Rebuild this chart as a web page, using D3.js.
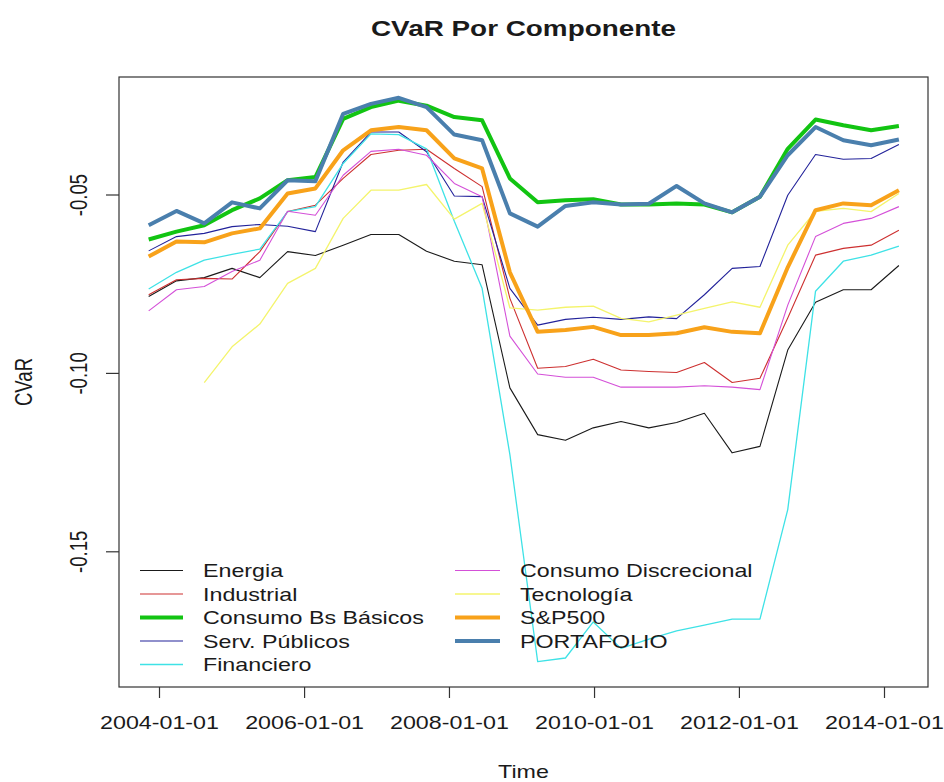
<!DOCTYPE html>
<html>
<head>
<meta charset="utf-8">
<script src="https://cdn.jsdelivr.net/npm/d3@7"></script>
<style>
    body { margin: 0; background: #fff; }
    svg { display: block; }
    text { font-family: "Liberation Sans", Arial, sans-serif; fill: #1a1a1a; }
</style>
</head>
<body>
<svg id="chart" width="944" height="782"></svg>
<script>
// fechas de cada ventana (cada 20 semanas aprox.)
const dates = [
    "2003-11-10", "2004-03-29", "2004-08-16", "2005-01-03", "2005-05-23", "2005-10-10",
    "2006-02-27", "2006-07-17", "2006-12-04", "2007-04-23", "2007-09-10", "2008-01-28",
    "2008-06-16", "2008-11-03", "2009-03-23", "2009-08-10", "2009-12-28", "2010-05-17",
    "2010-10-04", "2011-02-21", "2011-07-11", "2011-11-28", "2012-04-16", "2012-09-03",
    "2013-01-21", "2013-06-10", "2013-10-28", "2014-03-17"
];

const energia = [-0.0786, -0.0742, -0.0733, -0.0707, -0.0733, -0.0660, -0.0671, -0.0642, -0.0612, -0.0612, -0.0659, -0.0687, -0.0697, -0.1042,
    -0.1173, -0.1189, -0.1154, -0.1136, -0.1154, -0.1139, -0.1113, -0.1224, -0.1206, -0.0936, -0.0802, -0.0767, -0.0767, -0.0699];
const industrial = [-0.0781, -0.0739, -0.0735, -0.0737, -0.0660, -0.0548, -0.0530, -0.0455, -0.0388, -0.0376, -0.0373, -0.0427, -0.0478, -0.0791,
    -0.0987, -0.0982, -0.0962, -0.0992, -0.0996, -0.0999, -0.0971, -0.1027, -0.1015, -0.0846, -0.0670, -0.0651, -0.0642, -0.0600];
const consumoBasicos = [-0.0626, -0.0604, -0.0586, -0.0544, -0.0511, -0.0460, -0.0451, -0.0288, -0.0255, -0.0237, -0.0251, -0.0283, -0.0292, -0.0455,
    -0.0522, -0.0516, -0.0513, -0.0528, -0.0528, -0.0525, -0.0528, -0.0550, -0.0506, -0.0372, -0.0290, -0.0306, -0.0320, -0.0308];
const servPublicos = [-0.0658, -0.0618, -0.0609, -0.0590, -0.0584, -0.0589, -0.0604, -0.0409, -0.0325, -0.0325, -0.0380, -0.0504, -0.0506, -0.0763,
    -0.0866, -0.0850, -0.0844, -0.0850, -0.0843, -0.0848, -0.0781, -0.0707, -0.0702, -0.0502, -0.0388, -0.0401, -0.0399, -0.0360];
const financiero = [-0.0765, -0.0718, -0.0684, -0.0668, -0.0653, -0.0548, -0.0534, -0.0413, -0.0330, -0.0332, -0.0372, -0.0575, -0.0763, -0.1229,
    -0.1809, -0.1799, -0.1698, -0.1772, -0.1746, -0.1723, -0.1707, -0.1690, -0.1690, -0.1383, -0.0771, -0.0687, -0.0670, -0.0645];
const discrecional = [-0.0826, -0.0767, -0.0758, -0.0716, -0.0684, -0.0547, -0.0558, -0.0446, -0.0379, -0.0373, -0.0390, -0.0469, -0.0506, -0.0897,
    -0.1003, -0.1012, -0.1012, -0.1040, -0.1040, -0.1040, -0.1036, -0.1040, -0.1047, -0.0810, -0.0618, -0.0581, -0.0567, -0.0534];
const tecnologia = [null, null, -0.1027, -0.0927, -0.0863, -0.0749, -0.0707, -0.0567, -0.0488, -0.0488, -0.0472, -0.0569, -0.0525, -0.0818,
    -0.0824, -0.0816, -0.0813, -0.0847, -0.0857, -0.0838, -0.0819, -0.0801, -0.0816, -0.0642, -0.0547, -0.0539, -0.0548, -0.0497];
const sp500 = [-0.0674, -0.0632, -0.0634, -0.0609, -0.0595, -0.0497, -0.0483, -0.0376, -0.0320, -0.0311, -0.0320, -0.0399, -0.0427, -0.0718,
    -0.0885, -0.0880, -0.0871, -0.0894, -0.0894, -0.0889, -0.0872, -0.0885, -0.0889, -0.0704, -0.0544, -0.0525, -0.0530, -0.0488];
const portafolio = [-0.0586, -0.0546, -0.0581, -0.0522, -0.0539, -0.0460, -0.0463, -0.0274, -0.0246, -0.0229, -0.0255, -0.0332, -0.0348, -0.0553,
    -0.0590, -0.0532, -0.0522, -0.0528, -0.0526, -0.0476, -0.0525, -0.0550, -0.0506, -0.0390, -0.0311, -0.0348, -0.0362, -0.0346];

const xTicks = ["2004-01-01", "2006-01-01", "2008-01-01", "2010-01-01", "2012-01-01", "2014-01-01"];
const yTicks = [-0.15, -0.10, -0.05];

// series en el orden de la leyenda
const series = [
    { name: "Energia", values: energia, color: "#1a1a1a", width: 1.1 },
    { name: "Industrial", values: industrial, color: "#cd3030", width: 1.1 },
    { name: "Consumo Bs Básicos", values: consumoBasicos, color: "#12c412", width: 4 },
    { name: "Serv. Públicos", values: servPublicos, color: "#22229a", width: 1.1 },
    { name: "Financiero", values: financiero, color: "#3ee2e6", width: 1.3 },
    { name: "Consumo Discrecional", values: discrecional, color: "#d450d8", width: 1.1 },
    { name: "Tecnología", values: tecnologia, color: "#f4f46c", width: 1.3 },
    { name: "S&P500", values: sp500, color: "#f8a21a", width: 4 },
    { name: "PORTAFOLIO", values: portafolio, color: "#4a7fad", width: 4 }
];

// el grafico original esta estirado en horizontal
const SX = 1.25;
const FS = 18.6;
const box = { left: 119, right: 928, top: 77, bottom: 687 };

const parse = d3.utcParse("%Y-%m-%d");
const svg = d3.select("#chart");

const x = d3.scaleUtc()
    .domain([parse("2004-01-01"), parse("2014-01-01")])
    .range([159, 884]);

const y = d3.scaleLinear()
    .domain([-0.05, -0.15])
    .range([194.5, 551.3]);

// lineas
const line = d3.line()
    .defined(d => d.v != null)
    .x(d => x(d.t))
    .y(d => y(d.v));

const lines = svg.append("g").attr("fill", "none").attr("stroke-linejoin", "round");
series.forEach(s => {
    const pts = dates.map((d, i) => ({ t: parse(d), v: s.values[i] }));
    lines.append("path")
        .datum(pts)
        .attr("d", line)
        .attr("stroke", s.color)
        .attr("stroke-width", s.width);
});

// caja
svg.append("rect")
    .attr("x", box.left)
    .attr("y", box.top)
    .attr("width", box.right - box.left)
    .attr("height", box.bottom - box.top)
    .attr("fill", "none")
    .attr("stroke", "#333")
    .attr("stroke-width", 1.2);

// eje x
const xAxis = svg.append("g")
    .attr("transform", `translate(0,${box.bottom})`)
    .call(d3.axisBottom(x)
        .tickValues(xTicks.map(parse))
        .tickFormat(d3.utcFormat("%Y-%m-%d"))
        .tickSize(11));
xAxis.select(".domain").remove();
xAxis.selectAll("line").attr("stroke", "#333").attr("stroke-width", 1.2);
xAxis.selectAll("text")
    .attr("y", 0)
    .attr("dy", null)
    .attr("font-size", FS)
    .attr("font-family", "Liberation Sans, Arial, sans-serif")
    .attr("fill", "#1a1a1a")
    .attr("transform", `translate(0,42) scale(${SX},1)`);

// eje y
const yAxis = svg.append("g")
    .attr("transform", `translate(${box.left},0)`)
    .call(d3.axisLeft(y)
        .tickValues(yTicks)
        .tickFormat(d => d.toFixed(2))
        .tickSize(13));
yAxis.select(".domain").remove();
yAxis.selectAll("line").attr("stroke", "#333").attr("stroke-width", 1.2);
yAxis.selectAll("text")
    .attr("x", 0)
    .attr("y", 0)
    .attr("dy", null)
    .attr("text-anchor", "middle")
    .attr("font-size", FS)
    .attr("font-family", "Liberation Sans, Arial, sans-serif")
    .attr("fill", "#1a1a1a")
    .attr("transform", `translate(-32,0) scale(${SX},1) rotate(-90)`);

// textos
function label(str, tx, ty, opts = {}) {
    const t = svg.append("text")
        .attr("transform", `translate(${tx},${ty}) scale(${SX},1)` + (opts.rotate ? ` rotate(${opts.rotate})` : ""))
        .attr("text-anchor", opts.anchor || "middle")
        .attr("font-size", opts.size || FS)
        .text(str);
    if (opts.bold) t.attr("font-weight", "bold");
    if (opts.dy) t.attr("dy", opts.dy);
    return t;
}

label("CVaR Por Componente", (box.left + box.right) / 2, 36, { size: 22.3, bold: true });
label("Time", (box.left + box.right) / 2, 778);
label("CVaR", 32, (box.top + box.bottom) / 2, { rotate: -90 });

// leyenda en dos columnas
const legendCols = [
    { x1: 140, x2: 183, tx: 203 },
    { x1: 455, x2: 500, tx: 520 }
];
const legendY0 = 570.5, legendStep = 23.5;
series.forEach((s, i) => {
    const col = legendCols[i < 5 ? 0 : 1];
    const row = i < 5 ? i : i - 5;
    const ly = legendY0 + row * legendStep;
    svg.append("line")
        .attr("x1", col.x1).attr("x2", col.x2)
        .attr("y1", ly).attr("y2", ly)
        .attr("stroke", s.color)
        .attr("stroke-width", s.width);
    label(s.name, col.tx, ly, { anchor: "start", dy: "0.36em" });
});
</script>
</body>
</html>
